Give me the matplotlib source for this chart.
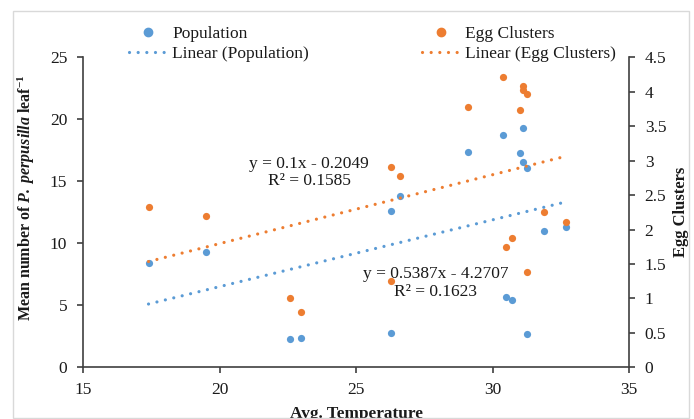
import numpy as np
import matplotlib
matplotlib.use("Agg")
import matplotlib.pyplot as plt
from matplotlib.lines import Line2D
from matplotlib.patches import Rectangle

plt.rcParams['font.family'] = ['Liberation Serif', 'DejaVu Serif']
plt.rcParams['mathtext.fontset'] = 'custom'
plt.rcParams['mathtext.rm'] = 'Liberation Serif'
plt.rcParams['mathtext.bf'] = 'Liberation Serif:bold'
plt.rcParams['mathtext.it'] = 'Liberation Serif:italic'
plt.rcParams['mathtext.bfit'] = 'Liberation Serif:bold:italic'

# ---- data ----
temperature = [17.4, 19.5, 22.6, 23.0, 26.3, 26.6, 26.3, 29.1, 30.4,
               31.1, 31.1, 31.25, 31.0, 31.9, 32.7, 30.5, 30.7, 31.25]
population = [8.4, 9.3, 2.25, 2.35, 12.6, 13.8, 2.75, 17.4, 18.7,
              19.3, 16.55, 16.1, 17.3, 11.0, 11.35, 5.7, 5.45, 2.65]
egg_clusters = [2.33, 2.2, 1.01, 0.81, 2.91, 2.77, 1.25, 3.78, 4.22,
                4.08, 4.02, 3.96, 3.73, 2.25, 2.11, 1.74, 1.88, 1.38]

pop_fit = (0.5387, -4.2707, 0.1623)
egg_fit = (0.1, -0.2049, 0.1585)

blue = '#5B9BD5'
orange = '#ED7D31'
axis_col = '#404040'
text_col = '#1a1a1a'
fs = 12.5

fig = plt.figure(figsize=(6.94, 4.19), dpi=100)
fig.patches.append(Rectangle((13/694, 1/419), 676/694, 407/419, transform=fig.transFigure,
                             fill=False, edgecolor='#d9d9d9', lw=1.0))

ax = fig.add_axes([83/694, 51.7/419, 546/694, 310/419])
ax2 = ax.twinx()

x = np.array(temperature)
xs = np.array([x.min(), x.max()])

dot_style = dict(linestyle=(0, (0.01, 2.7)), dash_capstyle='round', linewidth=2.3)

ax.plot(xs, pop_fit[0] * xs + pop_fit[1], color=blue, zorder=2, **dot_style)
ax2.plot(xs, egg_fit[0] * xs + egg_fit[1], color=orange, zorder=2, **dot_style)
ax.scatter(temperature, population, s=27, color=blue, zorder=3, linewidths=0)
ax2.scatter(temperature, egg_clusters, s=27, color=orange, zorder=3, linewidths=0)

ax.set_xlim(15, 35)
ax.set_ylim(0, 25)
ax2.set_ylim(0, 4.5)
ax.set_xticks([15, 20, 25, 30, 35])
ax.set_yticks([0, 5, 10, 15, 20, 25])
ax2.set_yticks([0, 0.5, 1, 1.5, 2, 2.5, 3, 3.5, 4, 4.5])
ax2.set_yticklabels(['0', '0.5', '1', '1.5', '2', '2.5', '3', '3.5', '4', '4.5'])

for a in (ax, ax2):
    a.spines['top'].set_visible(False)
    for s in a.spines.values():
        s.set_color(axis_col)
        s.set_linewidth(1.2)
    a.tick_params(colors=axis_col, labelcolor=text_col, labelsize=fs,
                  length=4.3, width=1.2, direction='out', pad=7)
ax.spines['right'].set_visible(False)
ax2.spines['left'].set_visible(False)
ax2.spines['bottom'].set_visible(False)
ax.tick_params(axis='x', pad=6)

ax.set_xlabel('Avg. Temperature', fontsize=12.4, fontweight='bold', labelpad=6,
              color=text_col)
ax.set_ylabel(r'Mean number of $\mathbfit{P.\ perpusilla}$ leaf$^{\mathbf{-1}}$',
              fontsize=11.5, fontweight='bold', color=text_col)
ax.yaxis.set_label_coords(-0.085, 0.546)
ax2.set_ylabel('Egg Clusters', fontsize=12, fontweight='bold', labelpad=5,
               color=text_col)

ax.text(23.28, 15.71, 'y = 0.1x - 0.2049\nR² = 0.1585', fontsize=fs, ha='center',
        va='center', linespacing=1.15, color=text_col)
ax.text(27.91, 6.8, 'y = 0.5387x - 4.2707\nR² = 0.1623', fontsize=fs, ha='center',
        va='center', linespacing=1.15, color=text_col)

handles = [
    Line2D([], [], marker='o', color=blue, linestyle='none', markersize=6),
    Line2D([], [], color=blue, **dot_style),
    Line2D([], [], marker='o', color=orange, linestyle='none', markersize=6),
    Line2D([], [], color=orange, **dot_style),
]
labels = ['Population', 'Linear (Population)', 'Egg Clusters', 'Linear (Egg Clusters)']
fig.legend(handles, labels, ncol=2, loc='upper left', bbox_to_anchor=(129/694, 1 - 26/419),
           frameon=False, fontsize=fs, handlelength=2.2, handletextpad=0.3,
           columnspacing=6.5, labelspacing=0.22, borderpad=0, borderaxespad=0,
           labelcolor=text_col)

fig.savefig('out.png', dpi=100)
